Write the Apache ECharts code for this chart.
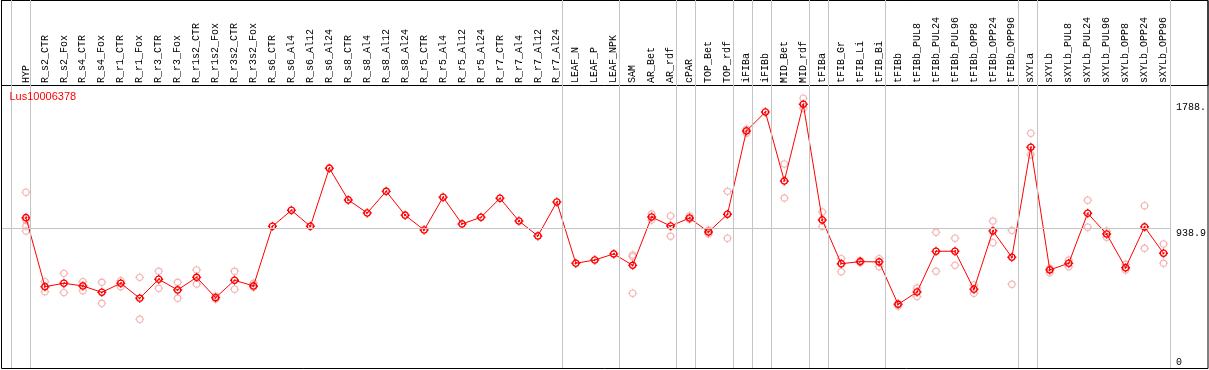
<!DOCTYPE html>
<html>
<head>
<meta charset="utf-8">
<script src="https://cdn.jsdelivr.net/npm/echarts@6/dist/echarts.min.js"></script>
<style>html,body{margin:0;padding:0;background:#fff;}#c{width:1209px;height:370px;}</style>
</head>
<body>
<div id="c"></div>
<script>
const categories = ['HYP','R_s2_CTR','R_s2_Fox','R_s4_CTR','R_s4_Fox','R_r1_CTR','R_r1_Fox','R_r3_CTR','R_r3_Fox','R_r1s2_CTR','R_r1s2_Fox','R_r3s2_CTR','R_r3s2_Fox','R_s6_CTR','R_s6_Al4','R_s6_Al12','R_s6_Al24','R_s8_CTR','R_s8_Al4','R_s8_Al12','R_s8_Al24','R_r5_CTR','R_r5_Al4','R_r5_Al12','R_r5_Al24','R_r7_CTR','R_r7_Al4','R_r7_Al12','R_r7_Al24','LEAF_N','LEAF_P','LEAF_NPK','SAM','AR_Bet','AR_rdf','cPAR','TOP_Bet','TOP_rdf','iFIBa','iFIBb','MID_Bet','MID_rdf','tFIBa','tFIB_Gr','tFIB_Li','tFIB_Bi','tFIBb','tFIBb_PUL8','tFIBb_PUL24','tFIBb_PUL96','tFIBb_OPP8','tFIBb_OPP24','tFIBb_OPP96','sXYLa','sXYLb','sXYLb_PUL8','sXYLb_PUL24','sXYLb_PUL96','sXYLb_OPP8','sXYLb_OPP24','sXYLb_OPP96'];

const meanValues = [1010,545,568,550,507,568,467,595,523,608,471,588,550,952,1060,952,1344,1130,1042,1188,1027,927,1148,968,1013,1141,988,887,1116,703,725,766,689,1015,954,1008,914,1033,1595,1723,1258,1775,995,700,714,712,426,509,784,784,528,921,743,1485,658,703,1040,900,673,948,770];

const rep1Values = [1182,579,635,579,575,586,608,649,575,658,482,649,568,null,null,null,null,null,null,null,null,null,null,null,null,null,null,null,null,null,null,null,759,1035,1022,1022,927,1188,1607,null,1373,1816,1049,734,722,734,432,536,912,872,557,988,925,1580,669,725,1128,921,696,1091,833];

const rep2Values = [921,511,505,518,433,545,325,534,467,563,462,528,541,null,null,null,null,null,null,null,null,null,null,null,null,null,null,null,null,null,null,null,501,995,885,1000,901,872,1580,null,1143,1748,950,646,706,680,415,478,649,689,501,842,561,1435,639,680,946,878,658,804,703];

const rep3Values = [995,null,null,null,null,null,null,null,null,null,null,null,null,null,null,null,null,null,null,null,null,null,null,null,null,null,null,null,null,null,null,null,747,null,null,null,null,null,null,null,null,null,null,null,null,null,null,null,null,null,null,null,null,null,null,null,null,null,null,null,null];

const rep4Values = [954,null,null,null,null,null,null,null,null,null,null,null,null,null,null,null,null,null,null,null,null,null,null,null,null,null,null,null,null,null,null,null,null,null,null,null,null,null,null,null,null,null,null,null,null,null,null,null,null,null,null,null,null,null,null,null,null,null,null,null,null];

// group separator boundaries (column index boundaries)
const separatorBounds = [0,1,29,32,35,36,38,39,40,42,43,46,53,54,61];
const yTickValuesTop = [938.9, 1788];
const yTickValuesBottom = [0];
const yTickLabels = {'0':'0','938.9':'938.9','1788':'1788.'};
const refLineValue = 938.9;
const geneName = 'Lus10006378';

const Y_MAX = 1905;
const pink = '#f0a0a0';
const red = '#ff0000';
const mono = 'Liberation Mono, DejaVu Sans Mono, monospace';
const tickCircle = 'path://M5,0V1.5M5,8.5V10M0,5H1.5M8.5,5H10M8.5,5A3.5,3.5,0,1,1,1.5,5A3.5,3.5,0,1,1,8.5,5Z';
const tickCircleMean = tickCircle + 'M4,6L6,4';

const chart = echarts.init(document.getElementById('c'), null, {renderer: 'canvas'});

function repSeries(vals) {
  return {
    type: 'scatter', xAxisIndex: 0, yAxisIndex: 0, data: vals,
    symbol: tickCircle, symbolSize: 9, z: 3, silent: true,
    itemStyle: {color: 'rgba(0,0,0,0)', borderColor: pink, borderWidth: 1.1}
  };
}

const hidden = {show: false};
chart.setOption({
  animation: false,
  backgroundColor: '#fff',
  title: {
    text: geneName, left: 9.5, top: 91, padding: 0,
    textStyle: {color: red, fontSize: 11, fontWeight: 'normal', fontFamily: 'Liberation Sans, Arial, sans-serif'}
  },
  grid: [
    {left: 16.5, top: 85, width: 1159, height: 282.5},
    {left: 11, top: 0, width: 1159, height: 368},
    {left: 2, top: 85, width: 1168, height: 282.5},
    {left: 1.5, top: 0.5, width: 1206.5, height: 368, show: true, borderColor: '#000', borderWidth: 1, backgroundColor: 'transparent', z: 5},
    {left: 1.5, top: 0.5, width: 1206.5, height: 85, show: true, borderColor: '#000', borderWidth: 1, backgroundColor: 'transparent', z: 5}
  ],
  xAxis: [
    {type: 'category', gridIndex: 0, data: categories, position: 'top', boundaryGap: true,
     axisLine: hidden, axisTick: hidden, splitLine: hidden,
     axisLabel: {rotate: 90, interval: 0, margin: 2, fontSize: 10, color: '#000', fontFamily: mono}},
    {type: 'value', gridIndex: 1, min: 0, max: 61, show: false},
    {type: 'value', gridIndex: 2, min: 0, max: 1, show: false},
    {type: 'value', gridIndex: 3, show: false},
    {type: 'value', gridIndex: 4, show: false}
  ],
  yAxis: [
    {type: 'value', gridIndex: 0, min: 0, max: Y_MAX, position: 'right',
     axisLine: hidden, axisTick: hidden, splitLine: hidden,
     axisLabel: {customValues: yTickValuesTop, margin: 3, verticalAlign: 'top', fontSize: 10, color: '#000', fontFamily: mono,
       formatter: v => yTickLabels[String(v)] ?? String(v)}},
    {type: 'value', gridIndex: 0, min: 0, max: Y_MAX, position: 'right',
     axisLine: hidden, axisTick: hidden, splitLine: hidden,
     axisLabel: {customValues: yTickValuesBottom, margin: 3, verticalAlign: 'bottom', fontSize: 10, color: '#000', fontFamily: mono,
       formatter: v => yTickLabels[String(v)] ?? String(v)}},
    {type: 'value', gridIndex: 1, min: 0, max: 1, show: false},
    {type: 'value', gridIndex: 2, min: 0, max: Y_MAX, show: false},
    {type: 'value', gridIndex: 3, show: false},
    {type: 'value', gridIndex: 4, show: false}
  ],
  series: [
    {type: 'line', xAxisIndex: 1, yAxisIndex: 2, data: [], z: 0, silent: true,
     markLine: {silent: true, symbol: 'none', label: {show: false}, animation: false,
       lineStyle: {color: '#c4c4c4', type: 'solid', width: 1},
       data: separatorBounds.map(b => ({xAxis: b}))}},
    {type: 'line', xAxisIndex: 2, yAxisIndex: 3, data: [], z: 0, silent: true,
     markLine: {silent: true, symbol: 'none', label: {show: false}, animation: false,
       lineStyle: {color: '#c4c4c4', type: 'solid', width: 1},
       data: [{yAxis: refLineValue}]}},
    repSeries(rep1Values),
    repSeries(rep2Values),
    repSeries(rep3Values),
    repSeries(rep4Values),
    {type: 'line', xAxisIndex: 0, yAxisIndex: 0, data: meanValues, z: 4, silent: true,
     symbol: tickCircleMean, symbolSize: 9, showAllSymbol: true,
     lineStyle: {color: red, width: 1},
     itemStyle: {color: 'rgba(0,0,0,0)', borderColor: red, borderWidth: 1.4}}
  ]
});
</script>
</body>
</html>
